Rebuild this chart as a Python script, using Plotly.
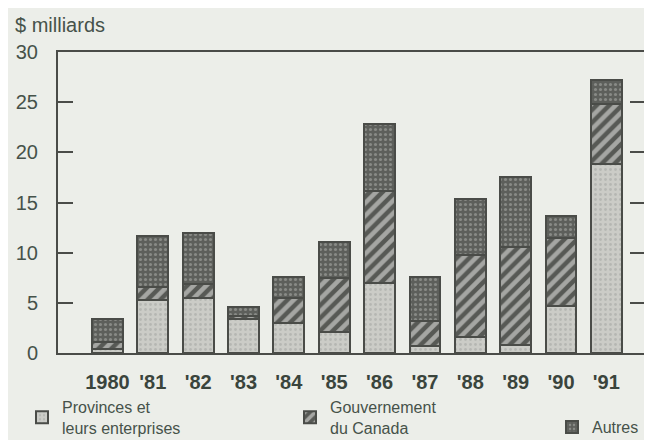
import plotly.graph_objects as go

# Emprunts nets, $ milliards
annees = ["1980", "'81", "'82", "'83", "'84", "'85", "'86", "'87", "'88", "'89", "'90", "'91"]
provinces = [0.4, 5.3, 5.5, 3.4, 3.0, 2.1, 7.0, 0.7, 1.6, 0.8, 4.7, 18.8]
canada = [0.7, 1.3, 1.4, 0.3, 2.5, 5.4, 9.1, 2.5, 8.2, 9.8, 6.8, 6.0]
autres = [2.3, 5.1, 5.1, 0.9, 2.1, 3.6, 6.7, 4.4, 5.5, 6.9, 2.2, 2.4]

bg = "#eceee9"
txt = "#46524a"
ligne = "#4a4c48"
fnt = "Liberation Sans, Arial, sans-serif"

# page body has an 8px margin, so the figure is a bit smaller than the window
W, H = 636, 432
L, T, B = 50, 44, 87
pw, ph = W - L, H - T - B

fig = go.Figure()

fig.add_trace(go.Bar(
    x=annees, y=provinces,
    name="Provinces et<br>leurs enterprises",
    legend="legend",
    marker=dict(color="#cbccc7",
                line=dict(color=ligne, width=2),
                pattern=dict(shape=".", fillmode="overlay", fgcolor="#a0a29d",
                             size=5, solidity=0.25))))

fig.add_trace(go.Bar(
    x=annees, y=canada,
    name="Gouvernement<br>du Canada",
    legend="legend2",
    marker=dict(color="#575955",
                line=dict(color=ligne, width=2),
                pattern=dict(shape="/", fillmode="overlay", fgcolor="#f4f4f1",
                             size=9, solidity=0.5))))

fig.add_trace(go.Bar(
    x=annees, y=autres,
    name="Autres",
    legend="legend3",
    marker=dict(color="#5d5f5b",
                line=dict(color=ligne, width=2),
                pattern=dict(shape=".", fillmode="overlay", fgcolor="#b4b6b1",
                             size=5, solidity=0.3))))

# ticks on the right side
fig.add_trace(go.Scatter(x=[], y=[], yaxis="y2", showlegend=False))

leg = dict(font=dict(family=fnt, size=16, color=txt), bgcolor="rgba(0,0,0,0)",
           yanchor="top", xanchor="left", itemclick=False)

fig.update_layout(
    width=W, height=H,
    margin=dict(l=L, r=0, t=T, b=B, autoexpand=False),
    paper_bgcolor=bg, plot_bgcolor=bg,
    barmode="stack", bargap=0.32,
    font=dict(family=fnt, color=txt),
    showlegend=True,
    xaxis=dict(type="category", range=[-1.09, 11.83],
               showline=True, linecolor=ligne, linewidth=2, mirror=True,
               ticks="", showgrid=False,
               tickfont=dict(size=20, color="#3a443c", weight="bold"),
               ticklabelstandoff=10),
    yaxis=dict(range=[0, 30], tickvals=[0, 5, 10, 15, 20, 25, 30],
               showline=True, linecolor=ligne, linewidth=2,
               ticks="inside", ticklen=15, tickwidth=2, tickcolor=ligne,
               showgrid=False, zeroline=False,
               tickfont=dict(size=20, color=txt),
               ticklabelstandoff=14),
    yaxis2=dict(range=[0, 30], overlaying="y", side="right",
                tickvals=[5, 10, 15, 20, 25], showticklabels=False,
                ticks="inside", ticklen=14, tickwidth=2, tickcolor=ligne,
                showline=False, showgrid=False, zeroline=False),
    legend=dict(leg, x=(14 - L) / pw, y=(T + ph - 382) / ph),
    legend2=dict(leg, x=(282 - L) / pw, y=(T + ph - 382) / ph),
    legend3=dict(leg, x=(544 - L) / pw, y=(T + ph - 402) / ph),
    annotations=[dict(text="$ milliards", xref="paper", yref="paper",
                      x=(5 - L) / pw, y=(T + ph - 17) / ph,
                      xanchor="left", yanchor="middle",
                      showarrow=False, font=dict(size=20, color=txt))],
)

fig.write_html("out.html")
